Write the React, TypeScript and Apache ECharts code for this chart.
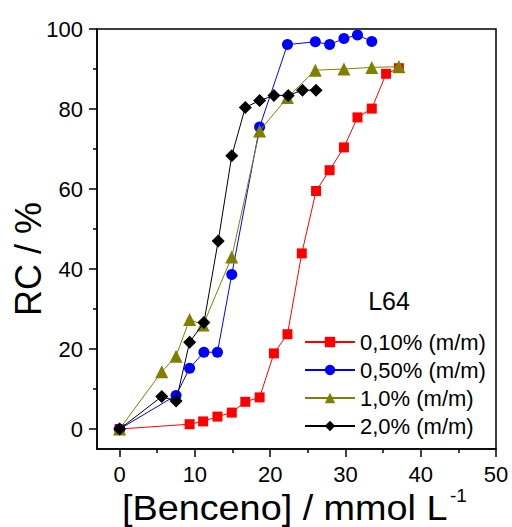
import React, { useEffect, useRef } from "react";
import * as echarts from "echarts";

const FONT = 'Arial, "Liberation Sans", sans-serif';

const seriesNames = ["0,10% (m/m)", "0,50% (m/m)", "1,0% (m/m)", "2,0% (m/m)"];
const seriesColors = ["#FF0000", "#0000FF", "#808000", "#000000"];
const seriesSymbols = ["rect", "circle", "triangle", "diamond"];
const seriesSymbolSizes = [10, 11, 13, 13];

const redX = [0, 9.3, 11.1, 13.0, 14.9, 16.7, 18.6, 20.5, 22.3, 24.2, 26.1, 27.9, 29.8, 31.6, 33.5, 35.4, 37.1];
const redY = [0, 1.2, 1.9, 3.1, 4.1, 6.8, 7.9, 18.9, 23.7, 43.9, 59.5, 64.7, 70.4, 77.9, 80.1, 88.8, 90.2];

const blueX = [0, 7.5, 9.3, 11.2, 13.0, 14.9, 18.6, 22.3, 26.0, 27.9, 29.8, 31.6, 33.5];
const blueY = [0, 8.4, 15.2, 19.2, 19.2, 38.6, 75.5, 96.1, 96.8, 96.1, 97.6, 98.5, 96.9];

const oliveX = [0, 5.6, 7.5, 9.3, 11.1, 14.9, 18.6, 22.3, 26.0, 29.8, 33.5, 37.1];
const oliveY = [0, 14.3, 18.2, 27.4, 26.0, 43.0, 74.5, 82.9, 89.7, 90.0, 90.4, 90.6];

const blackX = [0, 5.6, 7.5, 9.3, 11.2, 13.1, 14.9, 16.7, 18.6, 20.5, 22.4, 24.3, 26.1];
const blackY = [0, 8.1, 7.0, 21.7, 26.6, 47.0, 68.3, 80.4, 82.1, 83.4, 83.4, 84.7, 84.7];

const xMajorTicks = [0, 10, 20, 30, 40, 50];
const xMinorTicks = [5, 15, 25, 35, 45];
const yMajorTicks = [0, 20, 40, 60, 80, 100];
const yMinorTicks = [10, 30, 50, 70, 90];

const xTitle = "[Benceno] / mmol L";
const xTitleSup = "-1";
const yTitle = "RC / %";
const legendTitle = "L64";

const allX = [redX, blueX, oliveX, blackX];
const allY = [redY, blueY, oliveY, blackY];

export default function App() {
  const ref = useRef<HTMLDivElement>(null);
  useEffect(() => {
    if (!ref.current) return;
    const chart = echarts.init(ref.current, undefined, { renderer: "svg" });
    const axisLine = { show: true, onZero: false, lineStyle: { color: "#000", width: 1.5 } };
    const option: any = {
      animation: false,
      backgroundColor: "#fff",
      textStyle: { fontFamily: FONT },
      grid: {
        left: 97,
        top: 29,
        right: 16,
        bottom: 78,
        show: true,
        borderColor: "#000",
        borderWidth: 1.5,
        containLabel: false,
        outerBoundsMode: "none",
      },
      xAxis: [
        {
          type: "value",
          min: -3,
          max: 50,
          axisLine,
          splitLine: { show: false },
          axisTick: { show: true, inside: false, length: 8, customValues: xMajorTicks, lineStyle: { color: "#000", width: 1.5 } },
          axisLabel: { customValues: xMajorTicks, color: "#000", fontSize: 22, fontFamily: FONT, margin: 14 },
        },
        {
          type: "value",
          min: -3,
          max: 50,
          position: "bottom",
          axisLine: { show: false, onZero: false },
          splitLine: { show: false },
          axisTick: { show: true, inside: false, length: 4, customValues: xMinorTicks, lineStyle: { color: "#000", width: 1.5 } },
          axisLabel: { show: false },
        },
      ],
      yAxis: [
        {
          type: "value",
          min: -5,
          max: 100,
          axisLine,
          splitLine: { show: false },
          axisTick: { show: true, inside: false, length: 8, customValues: yMajorTicks, lineStyle: { color: "#000", width: 1.5 } },
          axisLabel: { customValues: yMajorTicks, color: "#000", fontSize: 22, fontFamily: FONT, margin: 14 },
        },
        {
          type: "value",
          min: -5,
          max: 100,
          position: "left",
          axisLine: { show: false, onZero: false },
          splitLine: { show: false },
          axisTick: { show: true, inside: false, length: 4, customValues: yMinorTicks, lineStyle: { color: "#000", width: 1.5 } },
          axisLabel: { show: false },
        },
      ],
      legend: {
        orient: "vertical",
        left: 304,
        top: 331,
        padding: 0,
        itemWidth: 50,
        itemHeight: 13,
        itemGap: 6,
        data: seriesNames,
        textStyle: { color: "#000", fontSize: 22, lineHeight: 22, fontFamily: FONT },
      },
      series: seriesNames.map((name, i) => ({
        name,
        type: "line",
        xAxisIndex: 0,
        yAxisIndex: 0,
        data: allX[i].map((x, j) => [x, allY[i][j]]),
        symbol: seriesSymbols[i],
        symbolSize: seriesSymbolSizes[i],
        showAllSymbol: true,
        lineStyle: { color: seriesColors[i], width: 1 },
        itemStyle: { color: seriesColors[i], borderWidth: 0 },
        emphasis: { disabled: true },
        z: 2 + i,
      })),
      graphic: [
        {
          type: "text",
          x: 389,
          y: 301,
          style: { text: legendTitle, fontSize: 25, fontFamily: FONT, fill: "#000", align: "center", verticalAlign: "middle" },
        },
        {
          type: "text",
          x: 28,
          y: 259,
          rotation: Math.PI / 2,
          style: { text: yTitle, fontSize: 36, fontFamily: FONT, fill: "#000", align: "center", verticalAlign: "middle" },
        },
        {
          type: "text",
          x: 122,
          y: 508,
          scaleX: 1.08,
          style: { text: xTitle, fontSize: 35, lineHeight: 30, fontFamily: FONT, fill: "#000", align: "left", verticalAlign: "middle" },
        },
        {
          type: "text",
          x: 450,
          y: 495,
          style: { text: xTitleSup, fontSize: 19, fontFamily: FONT, fill: "#000", align: "left", verticalAlign: "middle" },
        },
      ],
    };
    chart.setOption(option);
    return () => chart.dispose();
  }, []);
  return (
    <div
      ref={ref}
      style={{ position: "fixed", left: 0, top: 0, width: 512, height: 527, background: "#fff" }}
    />
  );
}
